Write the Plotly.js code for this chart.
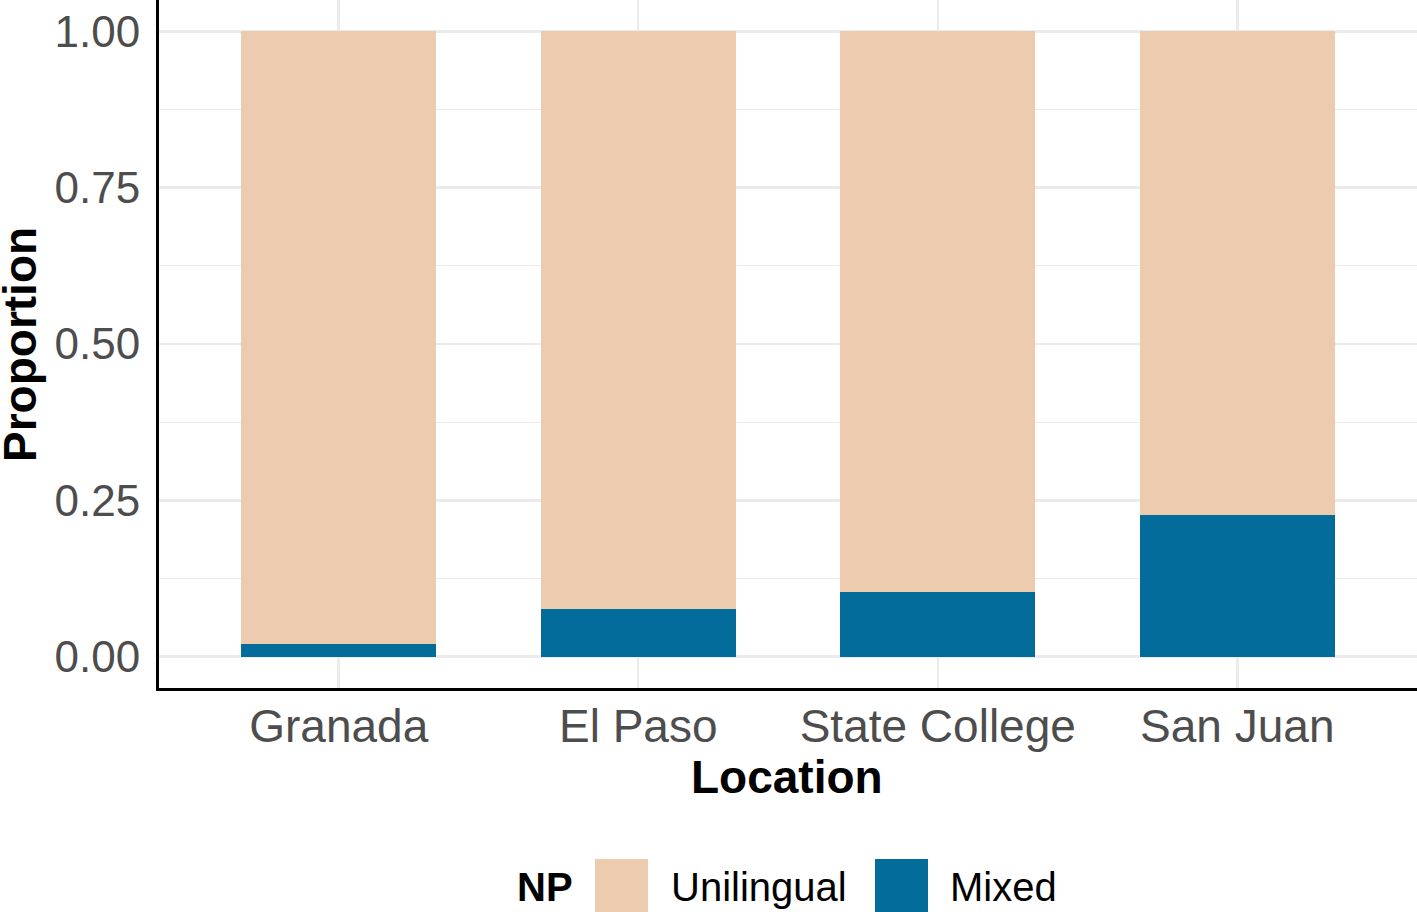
<!DOCTYPE html>
<html>
<head>
<meta charset="utf-8">
<script src="https://cdn.plot.ly/plotly-3.0.1.min.js"></script>
<style>
  html, body { margin: 0; padding: 0; background: #fff; }
  #chart { width: 1417px; height: 912px; }
</style>
</head>
<body>
<div id="chart"></div>
<script>
(function () {
  "use strict";

  // NP type proportions by location
  const locations  = ["Granada", "El Paso", "State College", "San Juan"];
  const mixed      = [0.020, 0.077, 0.104, 0.227];
  const unilingual = [0.980, 0.923, 0.896, 0.773];
  const yTicks     = [0, 0.25, 0.5, 0.75, 1];
  const yTickText  = ["0.00", "0.25", "0.50", "0.75", "1.00"];
  const xTitle = "Location", yTitle = "Proportion";
  const legendTitle  = "NP";
  const legendLabels = ["Unilingual", "Mixed"];

  const C = { uni: "#ECCBAE", mix: "#046C9A", grid: "#EBEBEB", tick: "#4D4D4D", text: "#000000" };
  const FONT = "'Liberation Sans', Arial, sans-serif";

  // plot area in pixels (paper coords derived from it)
  const W = 1417, H = 912;
  const M = { l: 159, r: 0, t: 0, b: 224 };
  const plotW = W - M.l - M.r, plotH = H - M.t - M.b;
  const px = x => (x - M.l) / plotW;
  const py = y => (plotH + M.t - y) / plotH;

  const traces = [
    { type: "bar", name: legendLabels[1], x: locations, y: mixed, width: 0.65,
      marker: { color: C.mix, line: { width: 0 } }, hoverinfo: "x+y" },
    { type: "bar", name: legendLabels[0], x: locations, y: unilingual, width: 0.65,
      marker: { color: C.uni, line: { width: 0 } }, hoverinfo: "x+y" },
  ];

  // ggplot-style bottom legend, built by hand so the keys can be large
  const keyColors = [C.uni, C.mix];
  const keyX = [595, 875];
  const shapes = legendLabels.map((lab, i) => ({
    type: "rect", xref: "paper", yref: "paper", layer: "above",
    x0: px(keyX[i]), x1: px(keyX[i] + 53), y0: py(859), y1: py(913),
    fillcolor: keyColors[i], line: { width: 0 },
  }));
  const txt = (text, x, y, size, extra) => Object.assign({
    text: text, x: x, y: y, xref: "paper", yref: "paper", showarrow: false,
    xanchor: "left", yanchor: "middle", font: { family: FONT, size: size, color: C.text },
  }, extra || {});
  const annotations = [
    txt("<b>" + legendTitle + "</b>", px(515), py(887), 40),
    txt(legendLabels[0], px(keyX[0] + 74), py(887), 40),
    txt(legendLabels[1], px(keyX[1] + 73), py(887), 40),
    // axis titles
    txt("<b>" + xTitle + "</b>", px(787), py(777), 46, { xanchor: "center" }),
    txt("<b>" + yTitle + "</b>", px(20), py(345), 46, { xanchor: "center", textangle: -90 }),
  ];

  Plotly.newPlot("chart", traces, {
    width: W, height: H,
    margin: M,
    paper_bgcolor: "#fff", plot_bgcolor: "#fff",
    barmode: "stack",
    bargap: 0,
    showlegend: false,
    font: { family: FONT, color: C.tick },
    xaxis: {
      type: "category", range: [-0.6, 3.6],
      showgrid: true, gridcolor: C.grid, gridwidth: 2.5,
      showline: true, linecolor: "#000", linewidth: 3,
      ticks: "", ticklabelstandoff: -4,
      tickfont: { family: FONT, size: 46, color: C.tick },
      zeroline: false, fixedrange: true,
    },
    yaxis: {
      range: [-0.05, 1.05],
      tickvals: yTicks, ticktext: yTickText,
      showgrid: true, gridcolor: C.grid, gridwidth: 2.5,
      minor: { dtick: 0.125, tick0: 0, showgrid: true, gridcolor: C.grid, gridwidth: 1.3 },
      showline: true, linecolor: "#000", linewidth: 3,
      ticks: "", ticklabelstandoff: 7,
      tickfont: { family: FONT, size: 44, color: C.tick },
      zeroline: false, fixedrange: true,
    },
    shapes: shapes,
    annotations: annotations,
  }, { displayModeBar: false, staticPlot: true });
})();
</script>
</body>
</html>
